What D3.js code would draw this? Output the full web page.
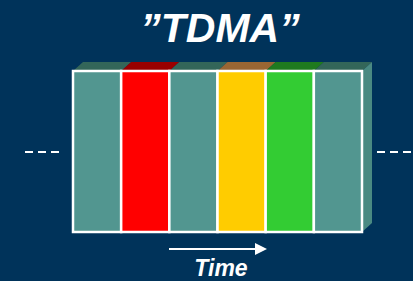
<!DOCTYPE html>
<html lang="en">
<head>
<meta charset="UTF-8">
<title>TDMA</title>
<style>
  html, body { margin: 0; padding: 0; background: #00335a; }
  svg { display: block; }
</style>
</head>
<body>
<svg id="chart" width="413" height="281"></svg>
<script src="https://d3js.org/d3.v7.min.js"></script>
<script>
// time slots in the frame, left to right
var slots = ["s1", "s2", "s3", "s4", "s5", "s6"];
var slotUser = ["idle", "A", "idle", "B", "C", "idle"];
var frontColors = ["#529690", "#ff0000", "#529690", "#ffcc00", "#33cc33", "#529690"];
var topColors = ["#336659", "#990000", "#336659", "#996633", "#1f7a1f", "#336659"];
var titleText = "\u201DTDMA\u201D";
var axisText = "Time";

var svg = d3.select("#chart");
var W = 413, H = 281;

// frame area
var x = d3.scaleBand().domain(slots).range([73, 362]).padding(0);
var y = d3.scaleLinear().domain([0, 1]).range([232, 71]);
var depthX = 10, depthY = 9;

svg.append("rect").attr("width", W).attr("height", H).attr("fill", "#00335a");

// top faces (parallelograms)
svg.selectAll(".top").data(slots).enter().append("path")
  .attr("class", "top")
  .attr("fill", function(d, i) { return topColors[i]; })
  .attr("d", function(d) {
    var x0 = x(d), x1 = x(d) + x.bandwidth(), yt = y(1);
    return "M" + x0 + "," + yt + "L" + (x0 + depthX) + "," + (yt - depthY) +
      "L" + (x1 + depthX) + "," + (yt - depthY) + "L" + x1 + "," + yt + "Z";
  });

// right side face
var xr = x.range()[1];
svg.append("path")
  .attr("fill", "#4a8a82")
  .attr("d", "M" + xr + "," + y(1) + "L" + (xr + depthX) + "," + (y(1) - depthY) +
    "L" + (xr + depthX) + "," + (y(0) - depthY) + "L" + xr + "," + y(0) + "Z");

// front cells
svg.selectAll(".slot").data(slots).enter().append("rect")
  .attr("class", "slot")
  .attr("x", function(d) { return x(d); })
  .attr("y", y(1))
  .attr("width", x.bandwidth())
  .attr("height", y(0) - y(1))
  .attr("fill", function(d, i) { return frontColors[i]; })
  .attr("stroke", "#ffffff")
  .attr("stroke-width", 2.5);

// dashed continuation marks
var midY = 152;
svg.append("line").attr("x1", 25).attr("x2", 59).attr("y1", midY).attr("y2", midY)
  .attr("stroke", "#ffffff").attr("stroke-width", 2).attr("stroke-dasharray", "8,5");
svg.append("line").attr("x1", 377).attr("x2", 411).attr("y1", midY).attr("y2", midY)
  .attr("stroke", "#ffffff").attr("stroke-width", 2).attr("stroke-dasharray", "8,5");

// time arrow
svg.append("line").attr("x1", 169).attr("x2", 256).attr("y1", 249).attr("y2", 249)
  .attr("stroke", "#ffffff").attr("stroke-width", 2);
svg.append("path").attr("d", "M255,243L267,249L255,255Z").attr("fill", "#ffffff");

// labels
svg.append("text")
  .attr("x", 220).attr("y", 42)
  .attr("text-anchor", "middle")
  .attr("fill", "#ffffff")
  .style("font-family", "'Liberation Sans', Arial, sans-serif")
  .style("font-weight", "bold").style("font-style", "italic")
  .style("font-size", "41px")
  .text(titleText);

svg.append("text")
  .attr("x", 221).attr("y", 276)
  .attr("text-anchor", "middle")
  .attr("fill", "#ffffff")
  .style("font-family", "'Liberation Sans', Arial, sans-serif")
  .style("font-weight", "bold").style("font-style", "italic")
  .style("font-size", "23px")
  .text(axisText);
</script>
</body>
</html>
